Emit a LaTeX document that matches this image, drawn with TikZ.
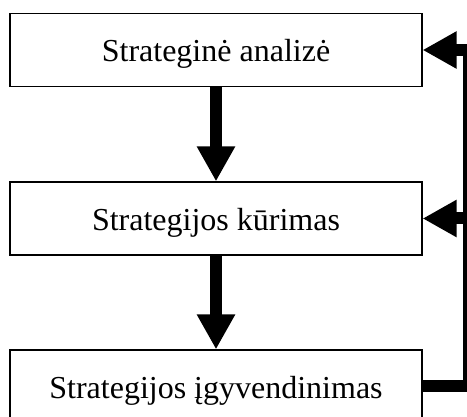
\documentclass[tikz,border=0pt]{standalone}
\usepackage{fontspec}
\setmainfont{Liberation Serif}
\usetikzlibrary{arrows.meta}
\begin{document}
\begin{tikzpicture}[x=1pt,y=-1pt,
  stagebox/.style={draw=black, line width=1.2pt, fill=white,
    minimum width=412pt, minimum height=73pt, inner sep=0pt,
    text height=24pt, text depth=0pt,
    font=\fontsize{32}{38}\selectfont},
  flow/.style={line width=12pt, -{Triangle[width=36pt,length=35pt]}},
  fb/.style={line width=12pt, line join=miter, -{Triangle[width=35pt,length=34pt]}}
]
\useasboundingbox (0,0) rectangle (467,417);
\node[stagebox] (a) at (216,50) {Strateginė analizė};
\node[stagebox] (b) at (216,218.5) {Strategijos kūrimas};
\node[stagebox] (c) at (216,386.5) {Strategijos įgyvendinimas};
\coordinate (r) at (469,0);
\draw[flow] (a.south) -- (b.north);
\draw[flow] (b.south) -- (c.north);
\draw[fb] (c.east) -- (c.east -| r) |- (a.east);
\draw[fb] (b.east -| r) -- (b.east);
\end{tikzpicture}
\end{document}
